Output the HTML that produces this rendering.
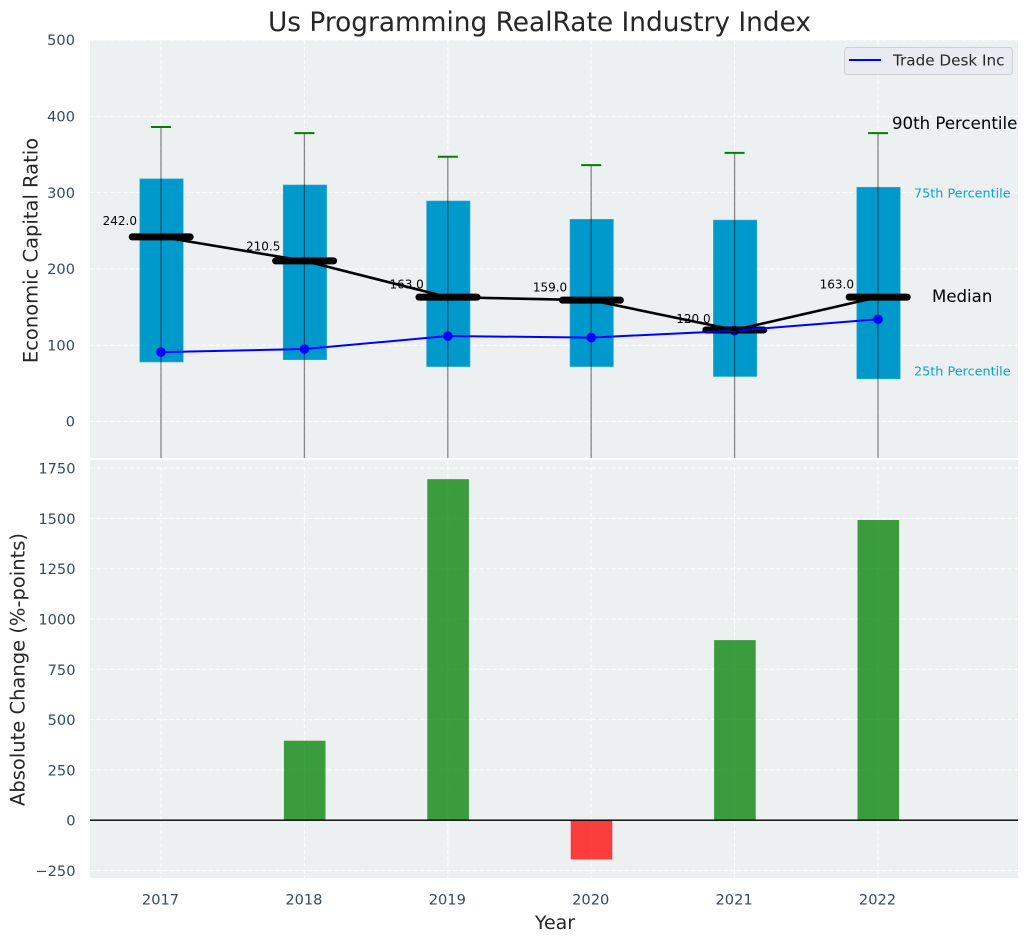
<!DOCTYPE html>
<html lang="en">
<head>
<meta charset="utf-8">
<title>Us Programming RealRate Industry Index</title>
<style>
html,body{margin:0;padding:0;background:#fff;width:1029px;height:942px;overflow:hidden}
svg{display:block;font-family:"DejaVu Sans","Liberation Sans",sans-serif}
</style>
</head>
<body>
<svg id="chart" xmlns="http://www.w3.org/2000/svg" width="1029" height="942" viewBox="0 0 1029 942">
  <rect x="0" y="0" width="1029" height="942" fill="#ffffff"/>
  <text x="539.5" y="31" font-size="26.4" text-anchor="middle" fill="#262626">Us Programming RealRate Industry Index</text>
  <rect x="90" y="40" width="928" height="418" fill="#ecf0f1"/>
  <rect x="90" y="460" width="928" height="418" fill="#ecf0f1"/>
  <defs>
    <clipPath id="top-clip"><rect x="90" y="40" width="928" height="418"/></clipPath>
    <clipPath id="bottom-clip"><rect x="90" y="460" width="928" height="418"/></clipPath>
  </defs>
  <g id="top-grid"></g>
  <g id="bottom-grid"></g>
  <g id="top-marks" clip-path="url(#top-clip)"></g>
  <g id="bottom-marks" clip-path="url(#bottom-clip)"></g>
  <g id="tick-labels"></g>
  <text transform="translate(37.5,250.5) rotate(-90)" font-size="19.5" text-anchor="middle" fill="#262626">Economic Capital Ratio</text>
  <text transform="translate(24.5,669.5) rotate(-90)" font-size="19.5" text-anchor="middle" fill="#262626">Absolute Change (%-points)</text>
  <text x="555" y="929" font-size="19" text-anchor="middle" fill="#262626">Year</text>
  <text x="892" y="129" font-size="16.6" fill="#000000">90th Percentile</text>
  <text x="914" y="197.5" font-size="12.8" fill="#0aa0d2">75th Percentile</text>
  <text x="932" y="302" font-size="16.6" fill="#000000">Median</text>
  <text x="914" y="375.5" font-size="12.8" fill="#0aa0d2">25th Percentile</text>
  <g>
    <rect x="844.5" y="47.5" width="168" height="27" rx="3" fill="#eaeaf2" stroke="#cfcfcf" stroke-width="1"/>
    <line x1="849" y1="60" x2="881" y2="60" stroke="#0000ff" stroke-width="2"/>
    <text x="893" y="65.5" font-size="15.2" fill="#262626">Trade Desk Inc</text>
  </g>
</svg>
<script>
const years = [2017, 2018, 2019, 2020, 2021, 2022];
const p90 = [386, 378, 347, 336, 352, 378];
const p75 = [318, 310, 289, 265, 264, 307];
const medians = [242, 210.5, 163, 159, 120, 163];
const p25 = [78, 81, 72, 72, 59, 56];
const p10 = [-80, -80, -80, -80, -80, -80];
const tradeDesk = [91, 95, 112, 110, 119, 134];
const changeYears = [2018, 2019, 2020, 2021, 2022];
const changes = [395, 1695, -195, 895, 1492];
const topTicks = [0, 100, 200, 300, 400, 500];
const bottomTicks = [-250, 0, 250, 500, 750, 1000, 1250, 1500, 1750];

const NS = 'http://www.w3.org/2000/svg';
const xScale = v => 161 + (v - 2017) * 143.4;
const yTop = v => 421.5 - v * 0.763;
const yBottom = v => 820.2 - v * 0.2012;

function node(parent, tag, props, text) {
  const el = document.createElementNS(NS, tag);
  for (const k in props) el.setAttribute(k, props[k]);
  if (text !== undefined) el.textContent = text;
  parent.appendChild(el);
  return el;
}

const topGrid = document.getElementById('top-grid');
const bottomGrid = document.getElementById('bottom-grid');
const topMarks = document.getElementById('top-marks');
const bottomMarks = document.getElementById('bottom-marks');
const tickLabels = document.getElementById('tick-labels');
const gridStyle = {stroke: '#ffffff', 'stroke-width': 1, 'stroke-dasharray': '4.6 2'};

topTicks.forEach(t => {
  const g = node(topGrid, 'line', Object.assign({x1: 90, x2: 1018, y1: yTop(t), y2: yTop(t)}, gridStyle));
  
  
  const l = node(tickLabels, 'text', {x: 75, y: yTop(t) + 5.2, 'font-size': 14.6, 'text-anchor': 'end', fill: '#34495e'}, String(t));
  
  
});

bottomTicks.forEach(t => {
  const g = node(bottomGrid, 'line', Object.assign({x1: 90, x2: 1018, y1: yBottom(t), y2: yBottom(t)}, gridStyle));
  
  
  const label = t < 0 ? '\u2212' + Math.abs(t) : String(t);
  const l = node(tickLabels, 'text', {x: 75.5, y: yBottom(t) + 5.5, 'font-size': 14.6, 'text-anchor': 'end', fill: '#34495e'}, label);
  
  
});

years.forEach(y => {
  const a = node(topGrid, 'line', Object.assign({x1: xScale(y), x2: xScale(y), y1: 40, y2: 458}, gridStyle));
  
  
  const b = node(bottomGrid, 'line', Object.assign({x1: xScale(y), x2: xScale(y), y1: 460, y2: 878}, gridStyle));
  
  
  const l = node(tickLabels, 'text', {x: xScale(y) - 0.5, y: 904.5, 'font-size': 14.6, 'text-anchor': 'middle', fill: '#34495e'}, String(y));
  
  
});

/* boxes between the 25th and 75th percentile */
years.forEach((y, i) => {
  const box = node(topMarks, 'rect', {
    x: xScale(y) - 21.2, width: 43.4,
    y: yTop(p75[i]), height: yTop(p25[i]) - yTop(p75[i]),
    fill: '#0099cc', stroke: '#33add6', 'stroke-width': 0.6
  });
  
  
});

/* whiskers with the 90th percentile cap */
years.forEach((y, i) => {
  const w = node(topMarks, 'line', {
    x1: xScale(y), x2: xScale(y), y1: yTop(p90[i]), y2: yTop(p10[i]),
    stroke: '#000000', 'stroke-opacity': 0.45, 'stroke-width': 1.3
  });
  
  
  const c = node(topMarks, 'line', {
    x1: xScale(y) - 10, x2: xScale(y) + 10, y1: yTop(p90[i]), y2: yTop(p90[i]),
    stroke: '#008000', 'stroke-width': 2
  });
  
  
});

/* Trade Desk markers sit under the median bars */
years.forEach((y, i) => {
  const d = node(topMarks, 'circle', {cx: xScale(y), cy: yTop(tradeDesk[i]), r: 4.8, fill: '#0000ff'});
  
  
});

/* thick median bars and value labels */
years.forEach((y, i) => {
  const m = node(topMarks, 'line', {
    x1: xScale(y) - 28.8, x2: xScale(y) + 29.2, y1: yTop(medians[i]), y2: yTop(medians[i]),
    stroke: '#000000', 'stroke-width': 7, 'stroke-linecap': 'round'
  });
  
  
  const t = node(topMarks, 'text', {
    x: xScale(y) - 24, y: yTop(medians[i] * 1.05) - 2.5,
    'font-size': 12, 'text-anchor': 'end', fill: '#000000'
  }, medians[i].toFixed(1));
  
  
});

const tradeLine = node(topMarks, 'polyline', {
  points: years.map((y, i) => xScale(y) + ',' + yTop(tradeDesk[i])).join(' '),
  fill: 'none', stroke: '#0000ff', 'stroke-width': 2
});



const medianLine = node(topMarks, 'polyline', {
  points: years.map((y, i) => xScale(y) + ',' + yTop(medians[i])).join(' '),
  fill: 'none', stroke: '#000000', 'stroke-width': 2.6
});



/* change bars */
changeYears.forEach((y, i) => {
  const v = changes[i];
  const bar = node(bottomMarks, 'rect', {
    x: xScale(y) - 20.5, width: 41.6,
    y: Math.min(yBottom(v), yBottom(0)),
    height: Math.abs(yBottom(v) - yBottom(0)),
    fill: v >= 0 ? '#008000' : '#ff0000', 'fill-opacity': 0.75
  });
  
  
});

const zero = node(bottomMarks, 'line', {x1: 90, x2: 1018, y1: yBottom(0), y2: yBottom(0), stroke: '#000000', 'stroke-width': 1.3});


</script>
</body>
</html>
